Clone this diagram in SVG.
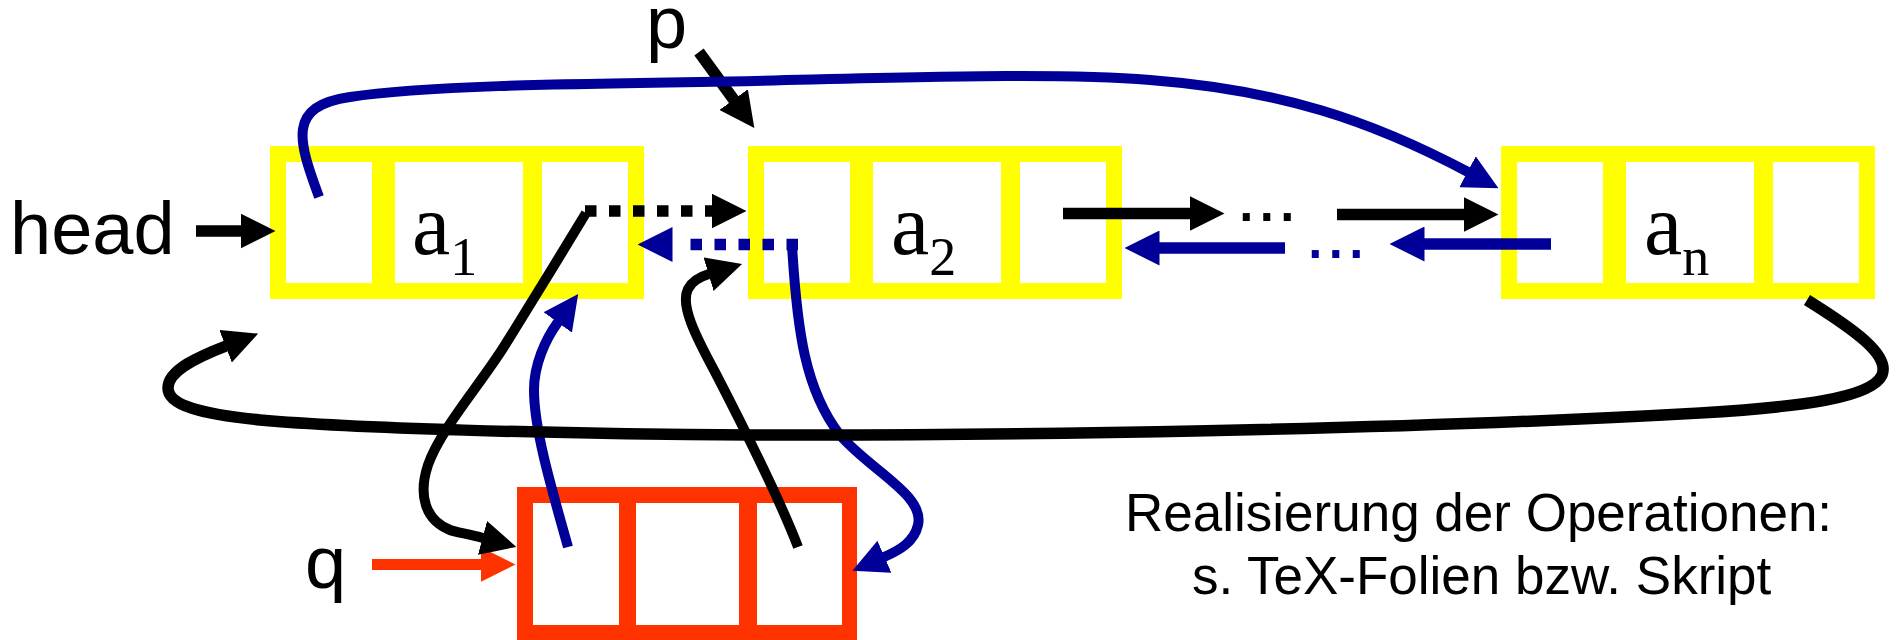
<svg xmlns="http://www.w3.org/2000/svg" width="1896" height="640" viewBox="0 0 1896 640">
<style>
.lbl{font-family:"Liberation Sans",Arial,sans-serif;font-size:74px;fill:#000}
.note{font-family:"Liberation Sans",Arial,sans-serif;font-size:53px;fill:#000}
.val{font-family:"Liberation Serif","Times New Roman",serif;font-size:86px;fill:#000}
.sub{font-size:54px}
.ybox{fill:#FFFF00}
.rbox{fill:#FF3300}
.cell{fill:#FFFFFF}
.k{fill:none;stroke:#000;stroke-width:10}
.kw{fill:none;stroke:#000;stroke-width:11.5}
.b{fill:none;stroke:#000099;stroke-width:10}
.bw{fill:none;stroke:#000099;stroke-width:11.5}
.r{fill:none;stroke:#FF3300;stroke-width:11}
</style>
<defs>
<marker id="ak" viewBox="0 0 35 35" markerUnits="userSpaceOnUse" markerWidth="35" markerHeight="35" refX="0.5" refY="17.5" orient="auto"><path d="M0,0 L35,17.5 L0,35 z" fill="#000"/></marker>
<marker id="ab" viewBox="0 0 35 35" markerUnits="userSpaceOnUse" markerWidth="35" markerHeight="35" refX="0.5" refY="17.5" orient="auto"><path d="M0,0 L35,17.5 L0,35 z" fill="#000099"/></marker>
<marker id="ar" viewBox="0 0 35 35" markerUnits="userSpaceOnUse" markerWidth="35" markerHeight="35" refX="0.5" refY="17.5" orient="auto"><path d="M0,0 L35,17.5 L0,35 z" fill="#FF3300"/></marker>
</defs>
<rect width="1896" height="640" fill="#FFFFFF"/>

<g id="label-head"><text class="lbl" x="10" y="254">head</text></g>
<g id="label-p"><text class="lbl" x="646" y="48">p</text></g>
<g id="label-q"><text class="lbl" x="305" y="588">q</text></g>

<g id="node1">
<rect class="ybox" x="270" y="146" width="374" height="153"/>
<rect class="cell" x="286" y="162" width="86" height="121"/>
<rect class="cell" x="395" y="162" width="128" height="121"/>
<rect class="cell" x="542" y="162" width="86" height="121"/>
<text class="val" x="412" y="254">a<tspan class="sub" dy="21">1</tspan></text>
</g>
<g id="node2">
<rect class="ybox" x="748" y="146" width="374" height="153"/>
<rect class="cell" x="764" y="162" width="86" height="121"/>
<rect class="cell" x="873" y="162" width="128" height="121"/>
<rect class="cell" x="1020" y="162" width="86" height="121"/>
<text class="val" x="891" y="254">a<tspan class="sub" dy="21">2</tspan></text>
</g>
<g id="node3">
<rect class="ybox" x="1501" y="146" width="374" height="153"/>
<rect class="cell" x="1517" y="162" width="86" height="121"/>
<rect class="cell" x="1626" y="162" width="128" height="121"/>
<rect class="cell" x="1773" y="162" width="86" height="121"/>
<text class="val" x="1644" y="254">a<tspan class="sub" dy="21">n</tspan></text>
</g>
<g id="nodeq">
<rect class="rbox" x="517" y="487" width="340" height="154"/>
<rect class="cell" x="533" y="503" width="86" height="122"/>
<rect class="cell" x="636" y="503" width="103" height="122"/>
<rect class="cell" x="757" y="503" width="85" height="122"/>
</g>

<g id="ellipsis">
<text class="lbl" x="1236" y="221">...</text>
<text class="lbl" x="1305" y="258" fill="#000099" style="fill:#000099">...</text>
</g>

<g id="note">
<text class="note" x="1125" y="531">Realisierung der Operationen:</text>
<text class="note" x="1192" y="594">s. TeX-Folien bzw. Skript</text>
</g>

<g id="connectors">
<path class="kw" d="M196,231 H241" marker-end="url(#ak)"/>
<path class="kw" d="M699,52 L734,100" marker-end="url(#ak)"/>
<path class="r" d="M372,564.5 H481" marker-end="url(#ar)"/>
<path class="kw" d="M1063,213.5 H1190" marker-end="url(#ak)"/>
<path class="kw" d="M1337,214.5 H1464" marker-end="url(#ak)"/>
<path class="bw" d="M1551,244 H1424" marker-end="url(#ab)"/>
<path class="bw" d="M1285,248 H1159" marker-end="url(#ab)"/>
<path class="kw" d="M585,211 H712" stroke-dasharray="11.5 12.5" marker-end="url(#ak)"/>
<path class="bw" d="M798,244.5 H672" stroke-dasharray="11.5 12.5 11.5 12.5 11.5 12.5 11.5 12.5 11.5 30" marker-end="url(#ab)"/>
<path class="b" d="M319,197 C298,140 287,106 350,97 C420,86 560,84 700,82 C900,78 1050,72 1150,80 C1280,90 1370,120 1468,172" marker-end="url(#ab)"/>
<path class="b" d="M792,245 C797,330 805,390 840,435 C870,470 925,495 918,525 C914,542 900,550 884,557" marker-end="url(#ab)"/>
<path class="k" d="M798,547 C780,500 745,430 715,372 C695,335 680,305 688,289 C692,281 699,277 709,274" marker-end="url(#ak)"/>
<path class="k" d="M586,213 C560,256 530,305 505,345 C480,385 440,430 428,465 C418,495 425,520 450,530 C455,532 468,534 483,538" marker-end="url(#ak)"/>
<path class="b" d="M568,547 C552,490 534,430 534,390 C534,365 545,340 558,322" marker-end="url(#ab)"/>
<path class="kw" d="M1807,300 C1855,330 1890,355 1882,375 C1872,398 1800,407 1700,413 C1400,430 1000,436 750,435 C550,434 350,428 260,420 C200,414 168,405 168,388 C168,370 200,356 226,346" marker-end="url(#ak)"/>
</g>
</svg>
